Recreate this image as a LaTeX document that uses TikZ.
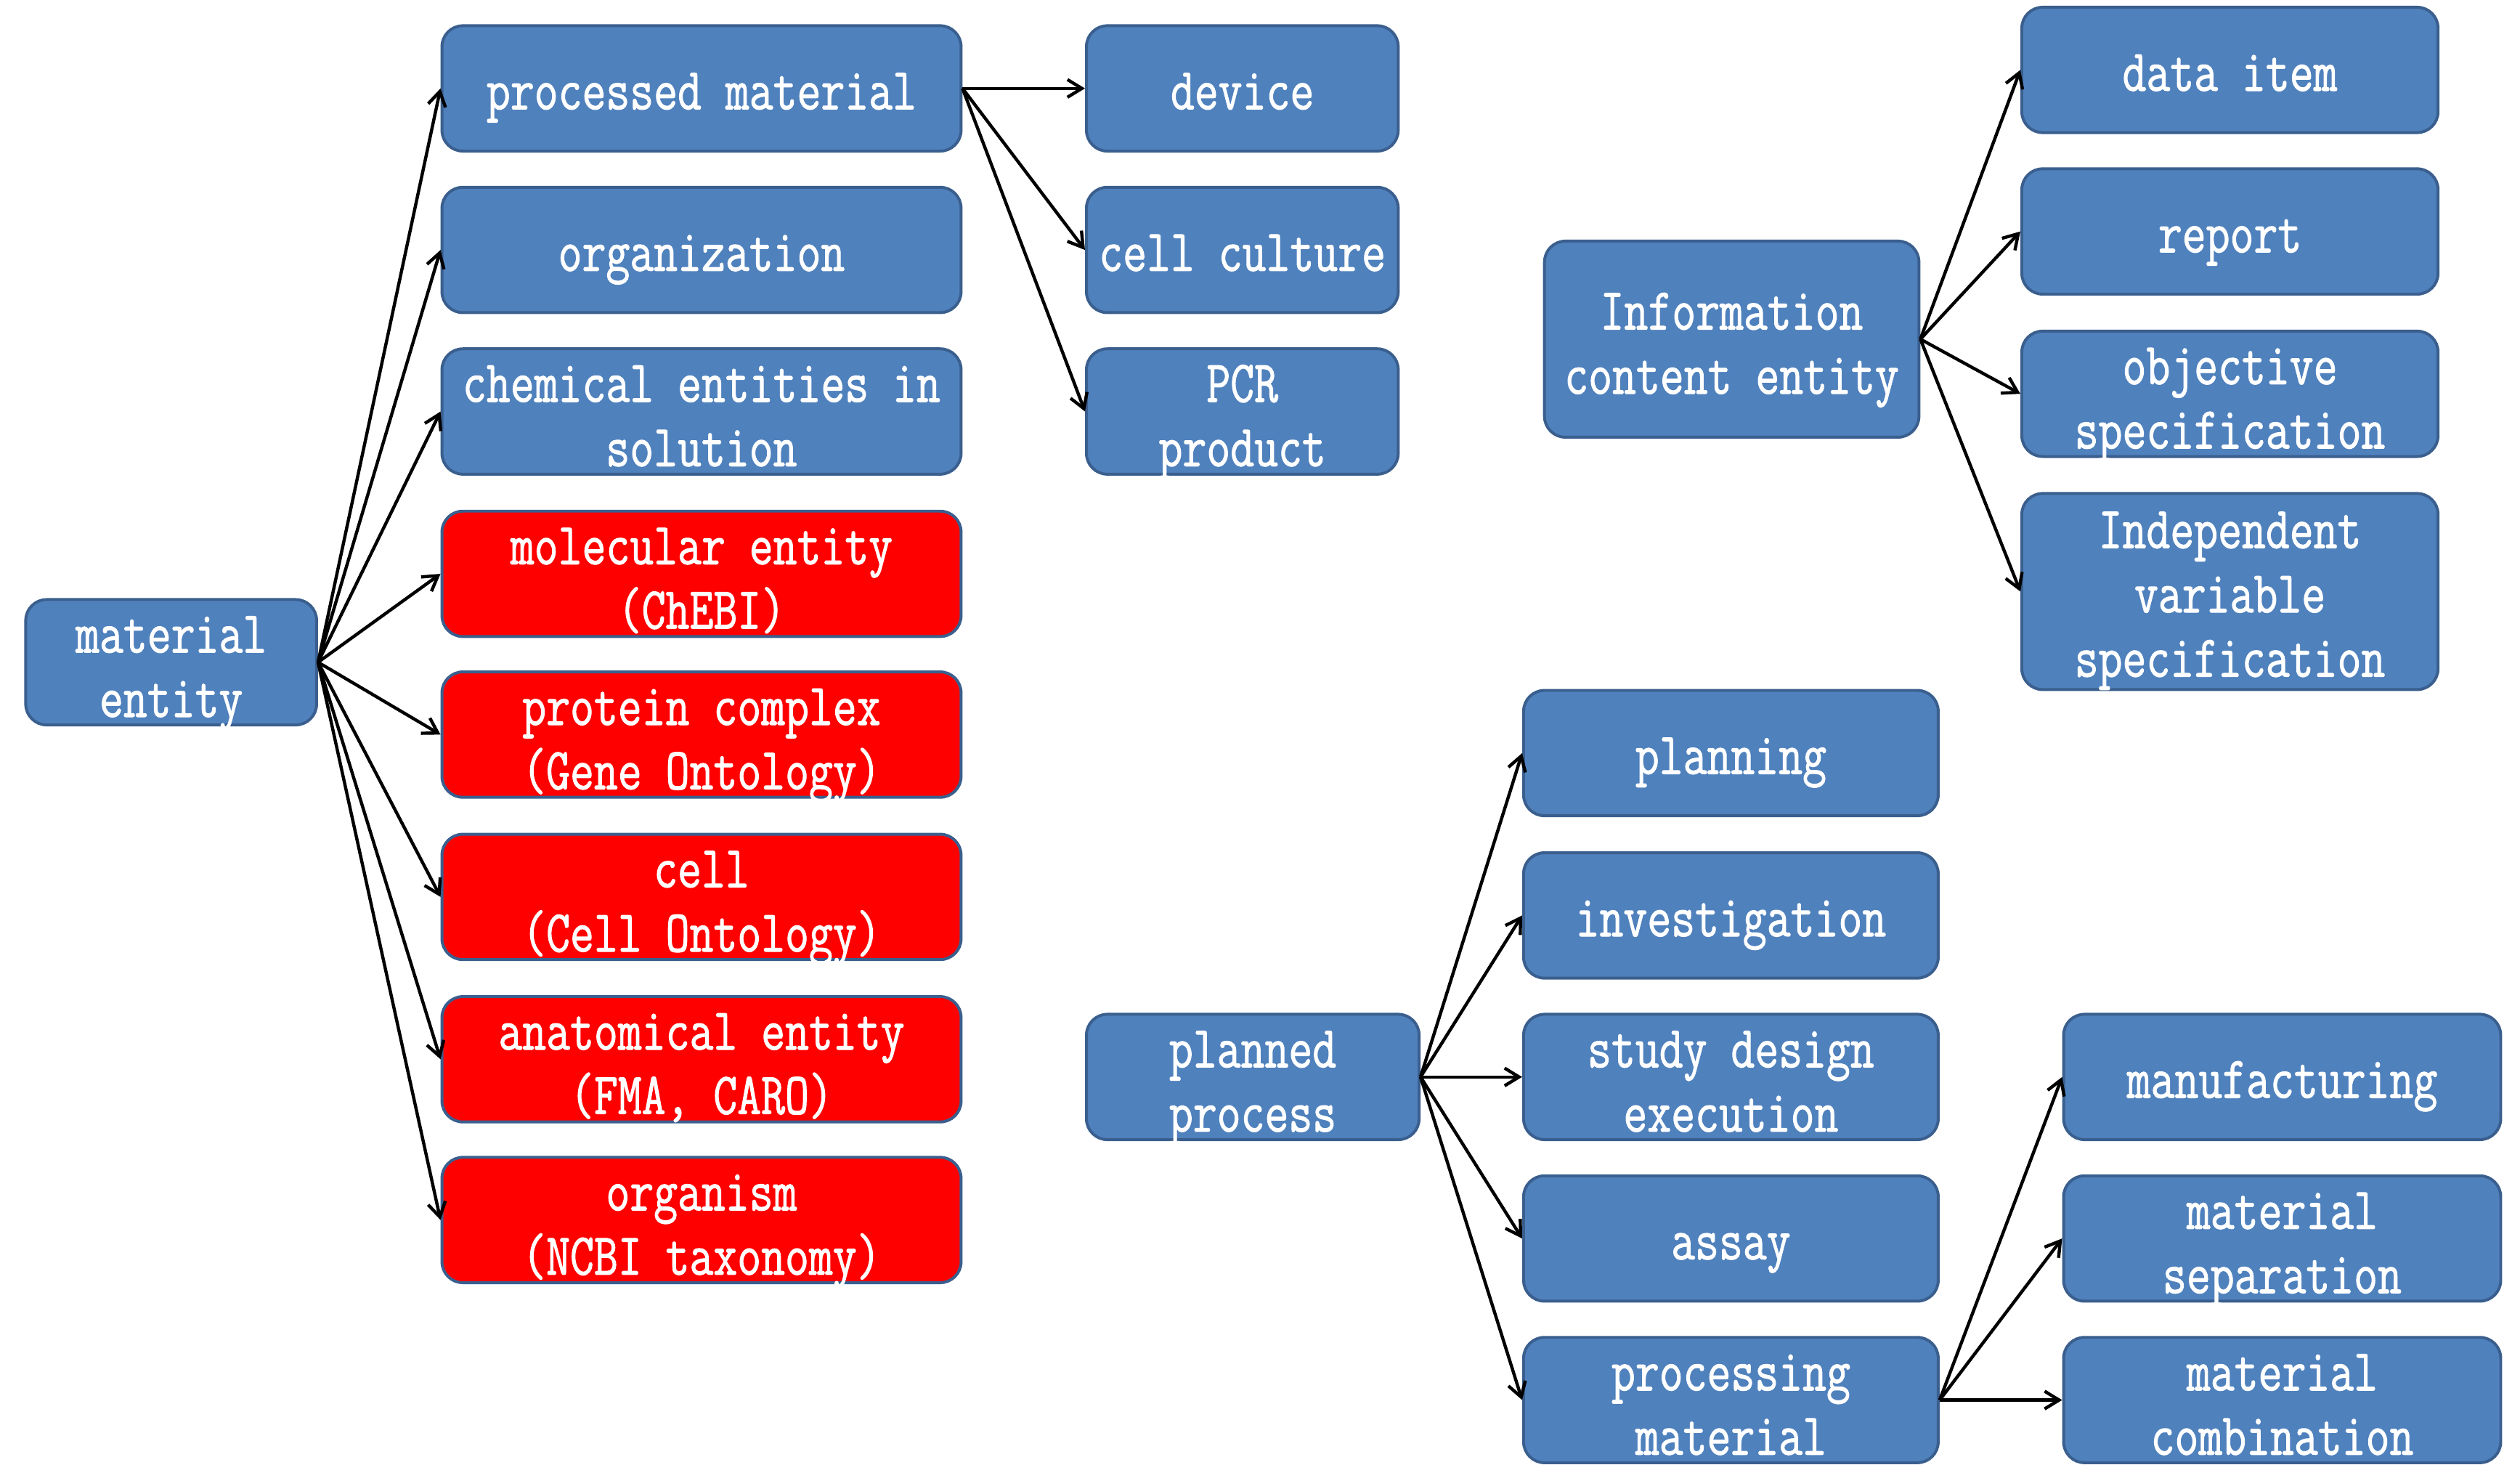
\documentclass[tikz,border=0pt]{standalone}
\usepackage{fontspec}
\newfontfamily\boxfont[FakeStretch=0.78,FakeBold=1.2]{Latin Modern Mono}
\usetikzlibrary{arrows.meta}
\definecolor{bfill}{HTML}{4F81BD}
\definecolor{bdraw}{HTML}{3A5F8E}
\tikzset{
  box/.style={draw=bdraw, line width=1.8pt, rounded corners=13pt, fill=bfill, inner sep=0pt},
  redbox/.style={box, fill=red},
  lbl/.style={text=white, font=\boxfont\fontsize{37}{40}\selectfont, align=center, inner sep=0pt, anchor=base},
  arr/.style={-{Straight Barb[length=9pt,width=11pt]}, line width=2pt, black},
}
% name, style, cx, cy, w, h, text, last-baseline offset
\newcommand\bx[8]{%
  \node[#2, minimum width=#5pt, minimum height=#6pt] (#1) at (#3,#4) {};
  \node[lbl] (#1-t) at (#3,{#4+#8}) {#7};
}
\begin{document}
\begin{tikzpicture}[x=1pt,y=-1pt]
\useasboundingbox (0,0) rectangle (1568,911);
% material entity tree
\bx{me}{box}{106.5}{412}{181}{78}{material\\entity}{34}
\bx{pm}{box}{436.5}{55}{323}{78}{processed material}{13}
\bx{org}{box}{436.5}{155.5}{323}{78}{organization}{13}
\bx{chem}{box}{436.5}{256}{323}{78}{chemical entities in\\solution}{34}
\bx{mol}{redbox}{436.5}{357}{323}{78}{molecular entity\\(ChEBI)}{34}
\bx{prot}{redbox}{436.5}{457}{323}{78}{protein complex\\(Gene Ontology)}{34}
\bx{cell}{redbox}{436.5}{558}{323}{78}{cell\\(Cell Ontology)}{34}
\bx{anat}{redbox}{436.5}{659}{323}{78}{anatomical entity\\(FMA, CARO)}{34}
\bx{orgm}{redbox}{436.5}{759}{323}{78}{organism\\(NCBI taxonomy)}{34}
\bx{dev}{box}{773}{55}{194}{78}{device}{13}
\bx{cc}{box}{773}{155.5}{194}{78}{cell culture}{13}
\bx{pcr}{box}{773}{256}{194}{78}{PCR\\product}{34}
% information content entity tree
\bx{ice}{box}{1077.5}{211}{233}{122}{Information\\content entity}{34}
\bx{di}{box}{1387.5}{43.5}{259}{78}{data item}{13}
\bx{rep}{box}{1387.5}{144}{259}{78}{report}{13}
\bx{obj}{box}{1387.5}{245}{259}{78}{objective\\specification}{34}
\bx{ind}{box}{1387.5}{368}{259}{122}{Independent\\variable\\specification}{53}
% planned process tree
\bx{pp}{box}{779.5}{670}{207}{78}{planned\\process}{34}
\bx{plan}{box}{1077}{468.5}{258}{78}{planning}{13}
\bx{inv}{box}{1077}{569.5}{258}{78}{investigation}{13}
\bx{sde}{box}{1077}{670}{258}{78}{study design\\execution}{34}
\bx{assay}{box}{1077}{770.5}{258}{78}{assay}{13}
\bx{proc}{box}{1077}{871}{258}{78}{processing\\material}{34}
\bx{man}{box}{1420}{670}{272}{78}{manufacturing}{13}
\bx{msep}{box}{1420}{770.5}{272}{78}{material\\separation}{34}
\bx{mcomb}{box}{1420}{871}{272}{78}{material\\combination}{34}
% connectors
\foreach \t in {pm,org,chem,mol,prot,cell,anat,orgm} \draw[arr] (me.east) -- (\t.west);
\foreach \t in {dev,cc,pcr} \draw[arr] (pm.east) -- (\t.west);
\foreach \t in {di,rep,obj,ind} \draw[arr] (ice.east) -- (\t.west);
\foreach \t in {plan,inv,sde,assay,proc} \draw[arr] (pp.east) -- (\t.west);
\foreach \t in {man,msep,mcomb} \draw[arr] (proc.east) -- (\t.west);
\end{tikzpicture}
\end{document}
